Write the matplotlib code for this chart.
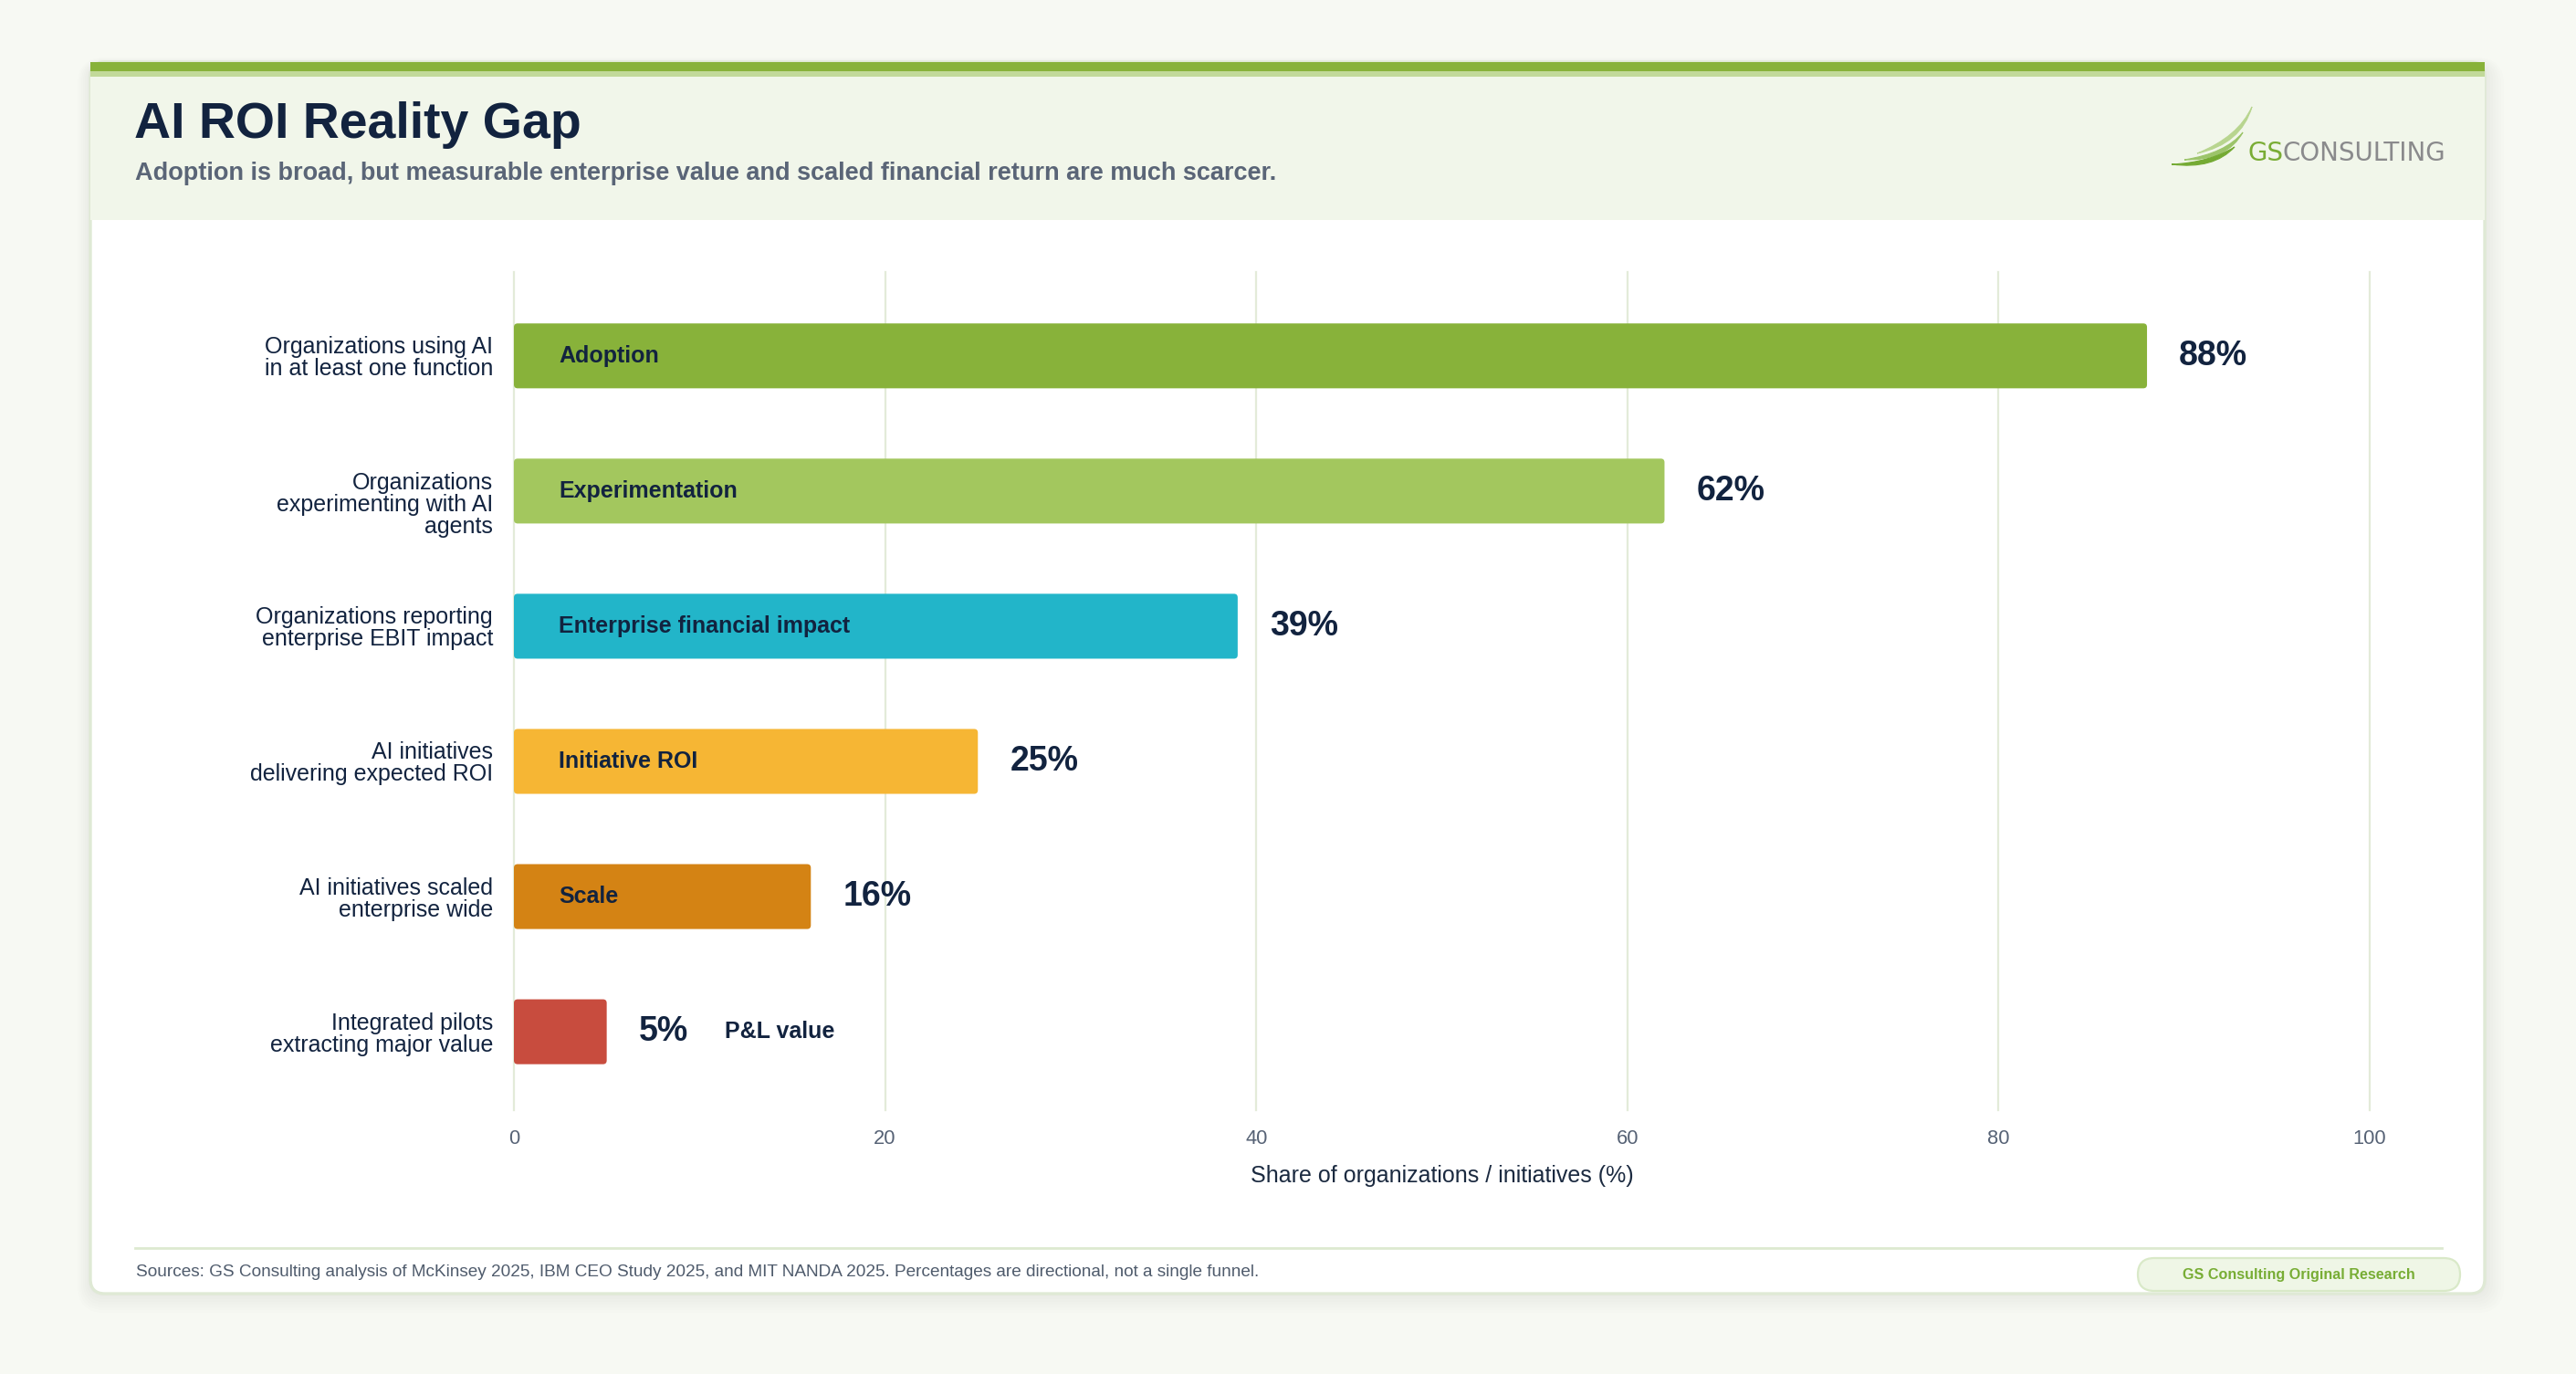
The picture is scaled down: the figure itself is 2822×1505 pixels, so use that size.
import numpy as np
import matplotlib.pyplot as plt
from matplotlib.patches import FancyBboxPatch, PathPatch
from matplotlib.path import Path
from matplotlib.transforms import IdentityTransform, ScaledTranslation

plt.rcParams['font.family'] = ['Liberation Sans', 'DejaVu Sans']

# chart data
categories = ['Organizations using AI\nin at least one function',
              'Organizations\nexperimenting with AI\nagents',
              'Organizations reporting\nenterprise EBIT impact',
              'AI initiatives\ndelivering expected ROI',
              'AI initiatives scaled\nenterprise wide',
              'Integrated pilots\nextracting major value']
stages = ['Adoption', 'Experimentation', 'Enterprise financial impact',
          'Initiative ROI', 'Scale', 'P&L value']
values = [88, 62, 39, 25, 16, 5]
colors = ['#88b23a', '#a3c75e', '#22b5c9', '#f6b634', '#d48314', '#c84c3e']
xticks = [0, 20, 40, 60, 80, 100]

title = 'AI ROI Reality Gap'
subtitle = 'Adoption is broad, but measurable enterprise value and scaled financial return are much scarcer.'
xlabel = 'Share of organizations / initiatives (%)'
source = ('Sources: GS Consulting analysis of McKinsey 2025, IBM CEO Study 2025, and MIT NANDA 2025. '
          'Percentages are directional, not a single funnel.')
badge = 'GS Consulting Original Research'

navy = '#12233f'
W, H = 2822, 1505
fig = plt.figure(figsize=(W / 200, H / 200), dpi=200)
fig.patch.set_facecolor('#f7f9f3')
px = IdentityTransform()


def box(x0, y0, x1, y1, r=0, **kw):
    p = FancyBboxPatch((x0, H - y1), x1 - x0, y1 - y0,
                       boxstyle=f'round,pad=0,rounding_size={r}' if r else 'square,pad=0',
                       transform=px, **kw)
    fig.add_artist(p)
    return p


def txt(x, y, s, **kw):
    return fig.text(x, H - y, s, transform=px, **kw)


# card shadow + card
for k in range(8):
    box(99 - 2 * k, 70 - k, 2722 + 3 * k, 1417 + 3 * k, r=16 + 2 * k,
        fc='#5a6a4a', ec='none', alpha=0.012, zorder=0)
box(99, 68, 2722, 1417, r=16, fc='white', ec='#dfe9d5', lw=1.2, zorder=1)
box(99, 68, 2722, 241, fc='#f1f6ea', ec='none', zorder=2)
box(99, 68, 2722, 78, fc='#88b23a', ec='none', zorder=3)
box(99, 78, 2722, 84, fc='#c2d99a', ec='none', zorder=3)

txt(147, 151, title, fontsize=20, fontweight='bold', color=navy, va='baseline', zorder=5)
txt(148, 197, subtitle, fontsize=9.75, fontweight='bold', color='#5a6577', va='baseline', zorder=5)

# logo
swooshes = [((2407, 168), (2455, 158), (2452, 150), (2467, 117), '#b8d58f'),
            ((2393, 175), (2440, 176), (2438, 168), (2457, 145), '#9cc46a'),
            ((2379, 180), (2425, 186), (2420, 178), (2448, 161), '#74aa33')]
for p0, c_lo, c_hi, p2, col in swooshes:
    verts = [(p0[0], H - p0[1]), (c_lo[0], H - c_lo[1]), (p2[0], H - p2[1]),
             (c_hi[0], H - c_hi[1]), (p0[0], H - p0[1])]
    codes = [Path.MOVETO, Path.CURVE3, Path.CURVE3, Path.CURVE3, Path.CURVE3]
    fig.add_artist(PathPatch(Path(verts, codes), fc=col, ec=col, lw=0.4,
                             transform=px, zorder=5))
gs = txt(2462, 176, 'GS', fontsize=10, family='DejaVu Sans', color='#7aad35',
         va='baseline', zorder=5)
fig.canvas.draw()
gs_right = gs.get_window_extent().x1
fig.text(gs_right, H - 176, 'CONSULTING', transform=px, fontsize=10, family='DejaVu Sans',
         color='#8a8a8c', va='baseline', zorder=5)

# footer
fig.add_artist(plt.Line2D([148, 2675], [H - 1367, H - 1367], color='#dde9d0', lw=1.0,
                          transform=px, zorder=4))
txt(149, 1393, source, fontsize=6.86, color='#4f5b6c', va='center', zorder=5)
box(2342, 1378, 2695, 1414, r=18, fc='#eff6e6', ec='#d9e9c8', lw=0.8, zorder=4)
txt(2518, 1396, badge, fontsize=5.8, fontweight='bold', color='#78ad35',
    ha='center', va='center', zorder=5)

# chart
ax = fig.add_axes([563 / W, (H - 1216) / H, (2596 - 563) / W, (1216 - 298) / H])
ax.set_zorder(6)
ax.patch.set_visible(False)
y = np.arange(len(values))
bars = ax.barh(y, values, height=0.48, color=colors)
for bar, c in zip(bars, colors):
    bar.set_visible(False)
    ax.add_patch(FancyBboxPatch((bar.get_x(), bar.get_y()), bar.get_width(), bar.get_height(),
                                boxstyle='round,pad=0,rounding_size=0.2',
                                mutation_aspect=0.1375, fc=c, ec='none', zorder=2))

for i, (v, s) in enumerate(zip(values, stages)):
    ax.annotate(f'{v}%', xy=(v, i), xytext=(12.6, 0), textcoords='offset points',
                ha='left', va='center', fontsize=13.5, fontweight='bold', color=navy)
    if v < 10:
        ax.annotate(s, xy=(v, i), xytext=(46.4, 0), textcoords='offset points',
                    ha='left', va='center', fontsize=9, fontweight='bold', color=navy)
    else:
        ax.annotate(s, xy=(0, i), xytext=(17.6, 0), textcoords='offset points',
                    ha='left', va='center', fontsize=9, fontweight='bold', color=navy)

ax.set_xlim(0, 100)
ax.set_ylim(5.58, -0.62)
ax.set_xticks(xticks)
ax.set_yticks(y)
ax.set_yticklabels(categories, fontsize=9, color=navy, linespacing=1.0)
ax.tick_params(axis='y', length=0, pad=8.3)
ax.tick_params(axis='x', length=0, pad=7.6, labelsize=7.9, labelcolor='#566275')
ax.grid(axis='x', color='#e3ebd9', lw=0.8, zorder=0)
ax.set_axisbelow(True)
for sp in ax.spines.values():
    sp.set_visible(False)
for gl in ax.get_xgridlines():
    gl.set_clip_on(False)
ax.set_xlabel(xlabel, fontsize=9, color='#1b2a40', labelpad=6.5)

# three-line labels sit a bit lower in the original
for lbl in ax.get_yticklabels():
    if lbl.get_text().count('\n') == 2:
        lbl.set_transform(lbl.get_transform() + ScaledTranslation(0, -13 / 200, fig.dpi_scale_trans))

fig.savefig('out.png', dpi=200, facecolor=fig.get_facecolor())
